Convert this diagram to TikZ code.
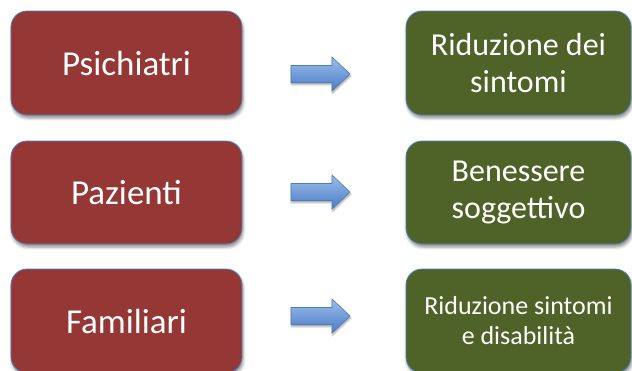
\documentclass[tikz,border=0pt]{standalone}
\usepackage{fontspec}
\setmainfont{Carlito}
\usetikzlibrary{shadows.blur}
\definecolor{boxred}{HTML}{953735}
\definecolor{boxgreen}{HTML}{4F6228}
\definecolor{boxedge}{HTML}{4F81BD}
\definecolor{arrtop}{HTML}{9DBDEB}
\definecolor{arrbot}{HTML}{4A7CC6}
\definecolor{arredge}{HTML}{4A7EBB}
\tikzset{
  basebox/.style={draw=boxedge, line width=0.8bp, rounded corners=16bp,
    text=white, align=center, inner sep=0pt,
    blur shadow={shadow xshift=1bp, shadow yshift=-3bp, shadow blur radius=3bp, shadow opacity=45}},
  srcbox/.style={basebox, fill=boxred, minimum width=231bp,
    font=\fontsize{35bp}{40bp}\selectfont},
  dstbox/.style={basebox, fill=boxgreen, minimum width=225bp,
    font=\fontsize{32bp}{36.5bp}\selectfont},
  fatarrow/.style={draw=arredge, line width=0.6bp, top color=arrtop, bottom color=arrbot,
    blur shadow={shadow xshift=0.5bp, shadow yshift=-2bp, shadow blur radius=2bp, shadow opacity=40}}
}
\begin{document}
\begin{tikzpicture}[x=1bp,y=-1bp]
\useasboundingbox (0,0) rectangle (632,370);
% left boxes
\node[srcbox, minimum height=104bp] (s1) at (126.5,63) {Psichiatri};
\node[srcbox, minimum height=103bp] (s2) at (126.5,192.5) {Pazienti};
\node[srcbox, minimum height=104bp] (s3) at (126.5,321) {Familiari};
% right boxes
\node[dstbox, minimum height=104bp] (d1) at (518.5,63) {Riduzione dei\\sintomi};
\node[dstbox, minimum height=103bp] (d2) at (518.5,192.5) {Benessere\\soggettivo};
\node[dstbox, minimum height=104bp, font=\fontsize{26bp}{30bp}\selectfont] (d3) at (518.5,321) {Riduzione sintomi\\e disabilità};
% arrows
\coordinate (a1) at (291,74);
\coordinate (a2) at (291,192);
\coordinate (a3) at (291,316);
\foreach \a in {a1,a2,a3}{
  \draw[fatarrow] (\a) ++(0,-8.5) -- ++(41,0) -- ++(0,-8.5) -- ++(18,17) -- ++(-18,17) -- ++(0,-8.5) -- ++(-41,0) -- cycle;
}
\end{tikzpicture}
\end{document}
